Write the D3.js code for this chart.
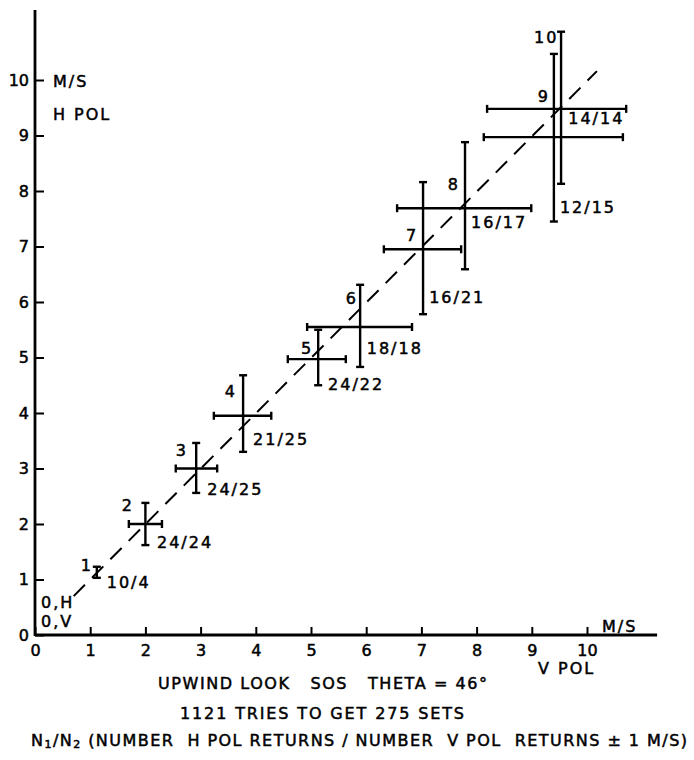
<!DOCTYPE html>
<html>
<head>
<meta charset="utf-8">
<script src="https://d3js.org/d3.v7.min.js"></script>
<style>
  body { margin: 0; background: #fff; }
  text { font-family: "DejaVu Sans", sans-serif; fill: #000; white-space: pre; }
</style>
</head>
<body>
<div id="chart"></div>
<script>
// run numbers
var runs   = ["1", "2", "3", "4", "5", "6", "7", "8", "9", "10"];
var ratios = ["10/4", "24/24", "24/25", "21/25", "24/22", "18/18", "16/21", "16/17", "12/15", "14/14"];
// V POL speed (x) and H POL speed (y), m/s
var vPol = [1.12, 2.00, 2.92, 3.77, 5.13, 5.89, 7.03, 7.79, 9.40, 9.53];
var hPol = [1.12, 2.00, 3.00, 3.95, 4.97, 5.55, 6.95, 7.69, 8.97, 9.48];
// spread of each set
var vLo = [1.12, 1.70, 2.55, 3.24, 4.58, 4.93, 6.32, 6.56, 8.13, 8.19];
var vHi = [1.12, 2.30, 3.30, 4.28, 5.63, 6.83, 7.72, 8.99, 10.65, 10.71];
var hLo = [1.03, 1.62, 2.56, 3.30, 4.50, 4.83, 5.78, 6.59, 7.45, 8.13];
var hHi = [1.23, 2.38, 3.46, 4.68, 5.50, 6.31, 8.16, 8.88, 10.47, 10.87];
// where the hand lettering sits, in m/s
var numV = [0.94, 1.68, 2.66, 3.55, 4.93, 5.74, 6.83, 7.59, 9.22, 9.26];
var numH = [1.26, 2.34, 3.33, 4.38, 5.17, 6.07, 7.19, 8.11, 9.71, 10.76];
var ratioV = [1.30, 2.21, 3.12, 3.95, 5.31, 6.01, 7.14, 7.90, 9.51, 9.66];
var ratioH = [0.95, 1.66, 2.63, 3.53, 4.52, 5.17, 6.09, 7.44, 7.71, 9.30];
var ticks = [0, 1, 2, 3, 4, 5, 6, 7, 8, 9, 10];

var width = 694, height = 760;
var svg = d3.select("#chart").append("svg")
    .attr("width", width).attr("height", height);

var x = d3.scaleLinear().domain([0, 10]).range([35, 587]);
var y = d3.scaleLinear().domain([0, 10]).range([635, 80]);

var lw = 2.4, cap = 4;

// axes
var xa = svg.append("g").attr("transform", "translate(0," + y(0) + ")")
    .call(d3.axisBottom(x).tickValues(ticks).tickSize(-8).tickSizeOuter(0).tickPadding(10));
var ya = svg.append("g").attr("transform", "translate(" + x(0) + ",0)")
    .call(d3.axisLeft(y).tickValues(ticks).tickSize(-9).tickSizeOuter(0).tickPadding(6));
[xa, ya].forEach(function(a) {
    a.select(".domain").remove();
    a.selectAll("line").attr("stroke", "#000").attr("stroke-width", 2);
    a.selectAll("text").style("font-size", "16px").style("font-family", "DejaVu Sans")
        .attr("stroke", "#000").attr("stroke-width", 0.5);
});
svg.append("line").attr("x1", x(0)).attr("x2", x(11.27)).attr("y1", y(0)).attr("y2", y(0))
    .attr("stroke", "#000").attr("stroke-width", 2.8);
svg.append("line").attr("x1", x(0)).attr("x2", x(0)).attr("y1", y(0) + 1).attr("y2", y(11.26))
    .attr("stroke", "#000").attr("stroke-width", 2.8);

function lbl(t, px, py, anchor, size) {
    return svg.append("text").attr("x", px).attr("y", py)
        .attr("text-anchor", anchor || "start").attr("dominant-baseline", "central")
        .style("font-size", (size || 16) + "px").style("letter-spacing", "2px")
        .attr("stroke", "#000").attr("stroke-width", 0.5).text(t);
}

lbl("M/S", 53, 81);
lbl("H POL", 53, 114);
lbl("M/S", 602, 626);
lbl("V POL", 538, 668);
lbl("0,H", x(0.11), y(0.58));
lbl("0,V", x(0.11), y(0.25));

// y = x reference
svg.append("line").attr("x1", x(0.7)).attr("y1", y(0.7)).attr("x2", x(10.18)).attr("y2", y(10.16))
    .attr("stroke", "#000").attr("stroke-width", 2).attr("stroke-dasharray", "16,10");

// error crosses
var idx = d3.range(runs.length);
var g = svg.append("g").attr("stroke", "#000").attr("stroke-width", lw);
idx.forEach(function(i) {
    var cx = x(vPol[i]), cy = y(hPol[i]);
    g.append("line").attr("x1", cx).attr("x2", cx).attr("y1", y(hLo[i])).attr("y2", y(hHi[i]));
    g.append("line").attr("x1", cx - cap).attr("x2", cx + cap).attr("y1", y(hLo[i])).attr("y2", y(hLo[i]));
    g.append("line").attr("x1", cx - cap).attr("x2", cx + cap).attr("y1", y(hHi[i])).attr("y2", y(hHi[i]));
    if (vHi[i] > vLo[i]) {
        g.append("line").attr("y1", cy).attr("y2", cy).attr("x1", x(vLo[i])).attr("x2", x(vHi[i]));
        g.append("line").attr("y1", cy - cap).attr("y2", cy + cap).attr("x1", x(vLo[i])).attr("x2", x(vLo[i]));
        g.append("line").attr("y1", cy - cap).attr("y2", cy + cap).attr("x1", x(vHi[i])).attr("x2", x(vHi[i]));
    }
    lbl(runs[i], x(numV[i]), y(numH[i]), "middle");
    lbl(ratios[i], x(ratioV[i]), y(ratioH[i]), "start");
});

// captions
lbl("UPWIND LOOK   SOS   THETA = 46\u00b0", 158, 683).attr("textLength", 329).attr("lengthAdjust", "spacing")
    .style("letter-spacing", null);
lbl("1121 TRIES TO GET 275 SETS", 180, 713).attr("textLength", 284).attr("lengthAdjust", "spacing")
    .style("letter-spacing", null);
var t3 = svg.append("text").attr("x", 31).attr("y", 740).attr("dominant-baseline", "central")
    .style("font-size", "16px").attr("stroke", "#000").attr("stroke-width", 0.5)
    .attr("textLength", 656).attr("lengthAdjust", "spacing");
t3.append("tspan").text("N");
t3.append("tspan").attr("dy", 4).style("font-size", "11px").text("1");
t3.append("tspan").attr("dy", -4).text("/N");
t3.append("tspan").attr("dy", 4).style("font-size", "11px").text("2");
t3.append("tspan").attr("dy", -4).text(" (NUMBER  H POL RETURNS / NUMBER  V POL  RETURNS \u00b1 1 M/S)");
</script>
</body>
</html>
